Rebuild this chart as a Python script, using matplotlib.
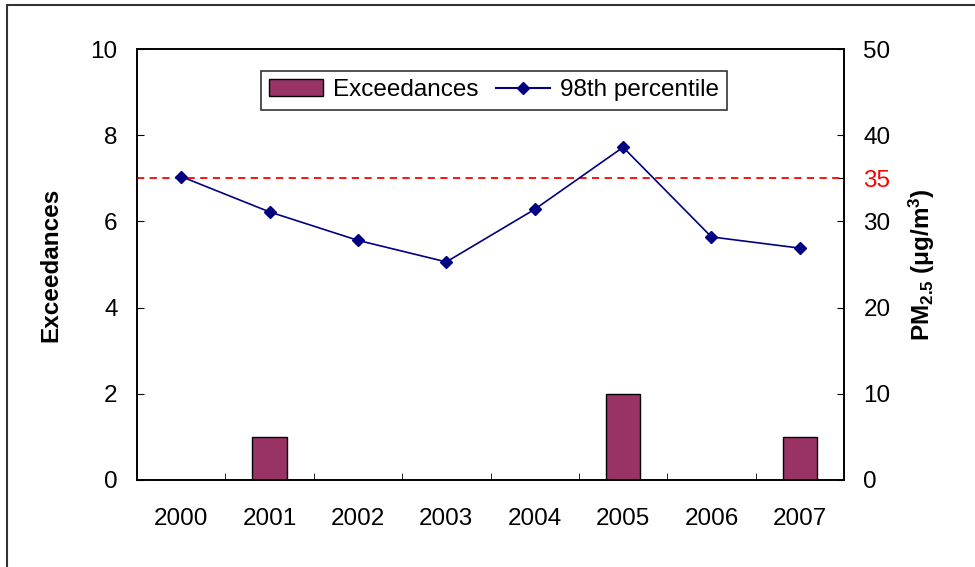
import matplotlib
matplotlib.use("Agg")
import matplotlib.pyplot as plt
from matplotlib.lines import Line2D
from matplotlib.patches import Patch, Rectangle

plt.rcParams["font.family"] = ["Liberation Sans", "DejaVu Sans"]
plt.rcParams["mathtext.fontset"] = "custom"
plt.rcParams["mathtext.rm"] = "Liberation Sans:bold"
plt.rcParams["mathtext.default"] = "rm"

years = ["2000", "2001", "2002", "2003", "2004", "2005", "2006", "2007"]
exceedances = [0, 1, 0, 0, 0, 2, 0, 1]
p98 = [35.2, 31.1, 27.8, 25.3, 31.4, 38.6, 28.2, 26.9]
standard = 35

BAR_COLOUR = "#993366"
LINE_COLOUR = "#000080"
FS = 17.5

fig = plt.figure(figsize=(9.75, 5.67), dpi=100)
ax = fig.add_axes([137 / 975, 87 / 567, 707 / 975, 431 / 567])
ax2 = ax.twinx()

x = list(range(len(years)))
ax.bar(x, exceedances, width=0.39, color=BAR_COLOUR, edgecolor="black",
       linewidth=1.0, zorder=2)
ax.set_xlim(-0.5, len(years) - 0.5)
ax.set_ylim(0, 10)
ax.set_yticks([0, 2, 4, 6, 8, 10])
ax.set_xticks(x)
ax.set_xticklabels(years)
ax.set_xticks([i + 0.5 for i in x[:-1]], minor=True)
ax.tick_params(axis="x", which="major", length=0, pad=20, labelsize=FS)
ax.tick_params(axis="x", which="minor", direction="in", length=5)
ax.tick_params(axis="y", direction="in", length=5, pad=14, labelsize=FS)
ax.set_ylabel("Exceedances", fontsize=FS, fontweight="bold", labelpad=20)

ax2.plot(x, p98, color=LINE_COLOUR, marker="D", markersize=6,
         linewidth=1.2, zorder=3)
ax2.axhline(standard, color="red", linestyle=(0, (4, 3)), linewidth=1.3,
            zorder=2)
ax2.set_ylim(0, 50)
ax2.set_yticks([0, 10, 20, 30, 35, 40, 50])
ax2.tick_params(axis="y", direction="in", length=5, pad=14, labelsize=FS)
for lbl, tk in zip(ax2.get_yticklabels(), ax2.yaxis.get_major_ticks()):
    if lbl.get_text() == "35":
        lbl.set_color("red")
        tk.tick2line.set_color("red")
ax2.set_ylabel("PM$_{2.5}$ (μg/m$^{3}$)", fontsize=FS, fontweight="bold",
               labelpad=12)

for a in (ax, ax2):
    for s in a.spines.values():
        s.set_linewidth(1.2)

handles = [
    Patch(facecolor=BAR_COLOUR, edgecolor="black", label="Exceedances"),
    Line2D([], [], color=LINE_COLOUR, marker="D", markersize=6,
           label="98th percentile"),
]
leg = ax2.legend(handles=handles, loc="upper center",
                 bbox_to_anchor=(0.505, 0.95), ncol=2, fontsize=FS,
                 frameon=True, fancybox=False, edgecolor="black",
                 handlelength=2.2, handletextpad=0.4, columnspacing=0.75,
                 borderpad=0.35, borderaxespad=0)
leg.get_frame().set_linewidth(1.2)

# outer chart-area frame
fig.patches.append(Rectangle((7 / 975, -0.1), 1.0, 1 - 5 / 567 + 0.1,
                             transform=fig.transFigure, fill=False,
                             edgecolor="#333333", linewidth=1.5))

fig.savefig("out.png", dpi=100)
